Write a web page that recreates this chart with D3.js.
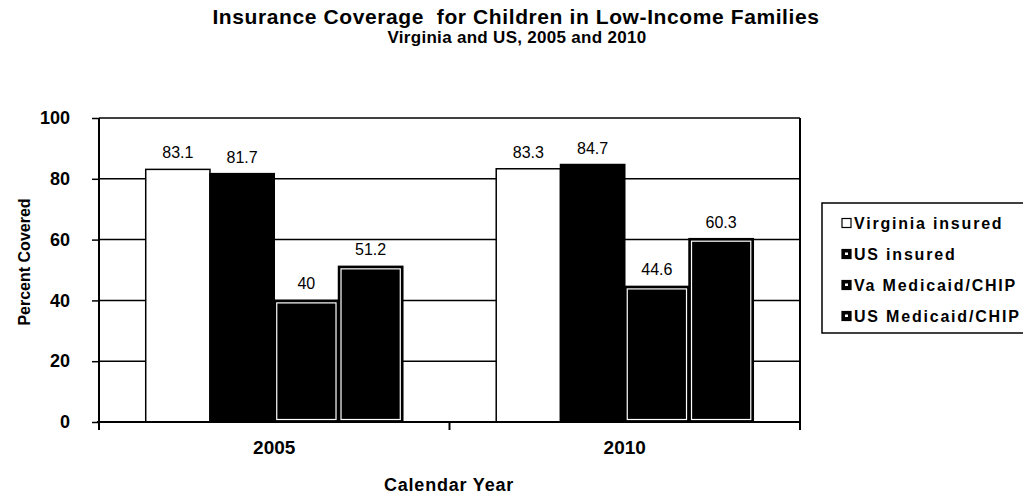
<!DOCTYPE html>
<html>
<head>
<meta charset="utf-8">
<script src="https://cdn.jsdelivr.net/npm/d3@7"></script>
<style>
  body { margin: 0; background: #fff; }
  text { font-family: Arial, "Liberation Sans", sans-serif; fill: #000; }
</style>
</head>
<body>
<div id="chart"></div>
<script>
// données
const years = ['2005', '2010'];
const series = ['Virginia insured', 'US insured', 'Va Medicaid/CHIP', 'US Medicaid/CHIP'];
const virginiaInsured = [83.1, 83.3];
const usInsured = [81.7, 84.7];
const vaMedicaid = [40, 44.6];
const usMedicaid = [51.2, 60.3];
const yTicks = [0, 20, 40, 60, 80, 100];

const values = [virginiaInsured, usInsured, vaMedicaid, usMedicaid];
const rows = [];
years.forEach((yr, i) => {
  series.forEach((s, j) => rows.push({ year: yr, series: s, idx: j, value: values[j][i] }));
});

const width = 1023;
const height = 499;
const plotLeft = 99, plotRight = 800, plotTop = 118, plotBottom = 422;

const svg = d3.select('#chart')
  .append('svg')
  .attr('width', width)
  .attr('height', height);

const x0 = d3.scaleBand().domain(years).range([plotLeft, plotRight]).paddingInner(0);
const x1 = d3.scaleBand().domain(series).range([0, x0.bandwidth()]).paddingInner(0).paddingOuter(0.727);
const y = d3.scaleLinear().domain([0, 100]).range([plotBottom, plotTop]);

// titre
svg.append('text')
  .attr('x', 516).attr('y', 24)
  .attr('text-anchor', 'middle')
  .attr('font-size', '21px').attr('font-weight', 'bold')
  .attr('letter-spacing', '0.6px')
  .style('white-space', 'pre')
  .text('Insurance Coverage  for Children in Low-Income Families');

svg.append('text')
  .attr('x', 517).attr('y', 43)
  .attr('text-anchor', 'middle')
  .attr('font-size', '17px').attr('font-weight', 'bold')
  .attr('letter-spacing', '0.3px')
  .text('Virginia and US, 2005 and 2010');

// grille
svg.append('g')
  .selectAll('line')
  .data(yTicks)
  .enter()
  .append('line')
  .attr('x1', plotLeft).attr('x2', plotRight)
  .attr('y1', d => y(d)).attr('y2', d => y(d))
  .attr('stroke', '#000').attr('stroke-width', 1.5);

// bordure droite
svg.append('line')
  .attr('x1', plotRight).attr('x2', plotRight)
  .attr('y1', plotTop).attr('y2', plotBottom)
  .attr('stroke', '#000').attr('stroke-width', 2);

// barres
const bars = svg.append('g').selectAll('g')
  .data(rows)
  .enter()
  .append('g');

bars.append('rect')
  .attr('x', d => x0(d.year) + x1(d.series))
  .attr('y', d => y(d.value))
  .attr('width', x1.bandwidth())
  .attr('height', d => y(0) - y(d.value))
  .attr('fill', d => d.idx === 0 ? '#fff' : '#000')
  .attr('stroke', '#000')
  .attr('stroke-width', 1.5);

// liseré blanc intérieur pour les barres Medicaid/CHIP
bars.filter(d => d.idx >= 2)
  .append('rect')
  .attr('x', d => x0(d.year) + x1(d.series) + 2.5)
  .attr('y', d => y(d.value) + 2.5)
  .attr('width', x1.bandwidth() - 5)
  .attr('height', d => y(0) - y(d.value) - 5)
  .attr('fill', 'none')
  .attr('stroke', '#fff')
  .attr('stroke-width', 1.2);

// valeurs
svg.selectAll('text.value')
  .data(rows)
  .enter()
  .append('text')
  .classed('value', true)
  .attr('x', d => x0(d.year) + x1(d.series) + x1.bandwidth() / 2)
  .attr('y', d => y(d.value) - 11)
  .attr('text-anchor', 'middle')
  .attr('font-size', '16px')
  .text(d => d.value);

// axe y
const yAxis = svg.append('g')
  .attr('transform', `translate(${plotLeft},0)`)
  .call(d3.axisLeft(y).tickValues(yTicks).tickSize(7).tickPadding(22));
yAxis.select('.domain').attr('stroke-width', 2).attr('d', `M0,${plotTop}V${plotBottom}`);
yAxis.selectAll('.tick line').attr('stroke-width', 1.5);
yAxis.selectAll('.tick text')
  .attr('font-size', '18px').attr('font-weight', 'bold')
  .attr('font-family', 'Arial, "Liberation Sans", sans-serif');

// axe x
const xAxis = svg.append('g')
  .attr('transform', `translate(0,${plotBottom})`)
  .call(d3.axisBottom(x0).tickSize(0).tickPadding(19));
xAxis.select('.domain').remove();
xAxis.append('line')
  .attr('x1', plotLeft - 2).attr('x2', plotRight)
  .attr('stroke', '#000').attr('stroke-width', 2);
xAxis.selectAll('.sep')
  .data([plotLeft, x0('2010'), plotRight])
  .enter()
  .append('line')
  .classed('sep', true)
  .attr('x1', d => d).attr('x2', d => d)
  .attr('y1', 0).attr('y2', 8)
  .attr('stroke', '#000').attr('stroke-width', 2);
xAxis.selectAll('.tick text')
  .attr('font-size', '19px').attr('font-weight', 'bold')
  .attr('font-family', 'Arial, "Liberation Sans", sans-serif');

// titres des axes
svg.append('text')
  .attr('transform', 'rotate(-90)')
  .attr('x', -262).attr('y', 30)
  .attr('text-anchor', 'middle')
  .attr('font-size', '16px').attr('font-weight', 'bold')
  .text('Percent Covered');

svg.append('text')
  .attr('x', 449).attr('y', 491)
  .attr('text-anchor', 'middle')
  .attr('font-size', '18px').attr('font-weight', 'bold')
  .attr('letter-spacing', '0.8px')
  .text('Calendar Year');

// légende
const legend = svg.append('g');
legend.append('rect')
  .attr('x', 822).attr('y', 203)
  .attr('width', 210).attr('height', 130)
  .attr('fill', '#fff')
  .attr('stroke', '#000').attr('stroke-width', 1.5);

const item = legend.selectAll('g.item')
  .data(series)
  .enter()
  .append('g')
  .classed('item', true)
  .attr('transform', (d, i) => `translate(0,${223 + i * 31})`);

item.append('rect')
  .attr('x', 842).attr('y', -4.5)
  .attr('width', 9).attr('height', 9)
  .attr('fill', (d, i) => i === 0 ? '#fff' : '#000')
  .attr('stroke', '#000').attr('stroke-width', 1.2);
item.filter((d, i) => i > 0)
  .append('rect')
  .attr('x', 845).attr('y', -1.5)
  .attr('width', 3).attr('height', 2.5)
  .attr('fill', '#fff');

item.append('text')
  .attr('x', 854).attr('y', 6)
  .attr('font-size', '16px').attr('font-weight', 'bold')
  .attr('letter-spacing', '1.8px')
  .text(d => d);
</script>
</body>
</html>
